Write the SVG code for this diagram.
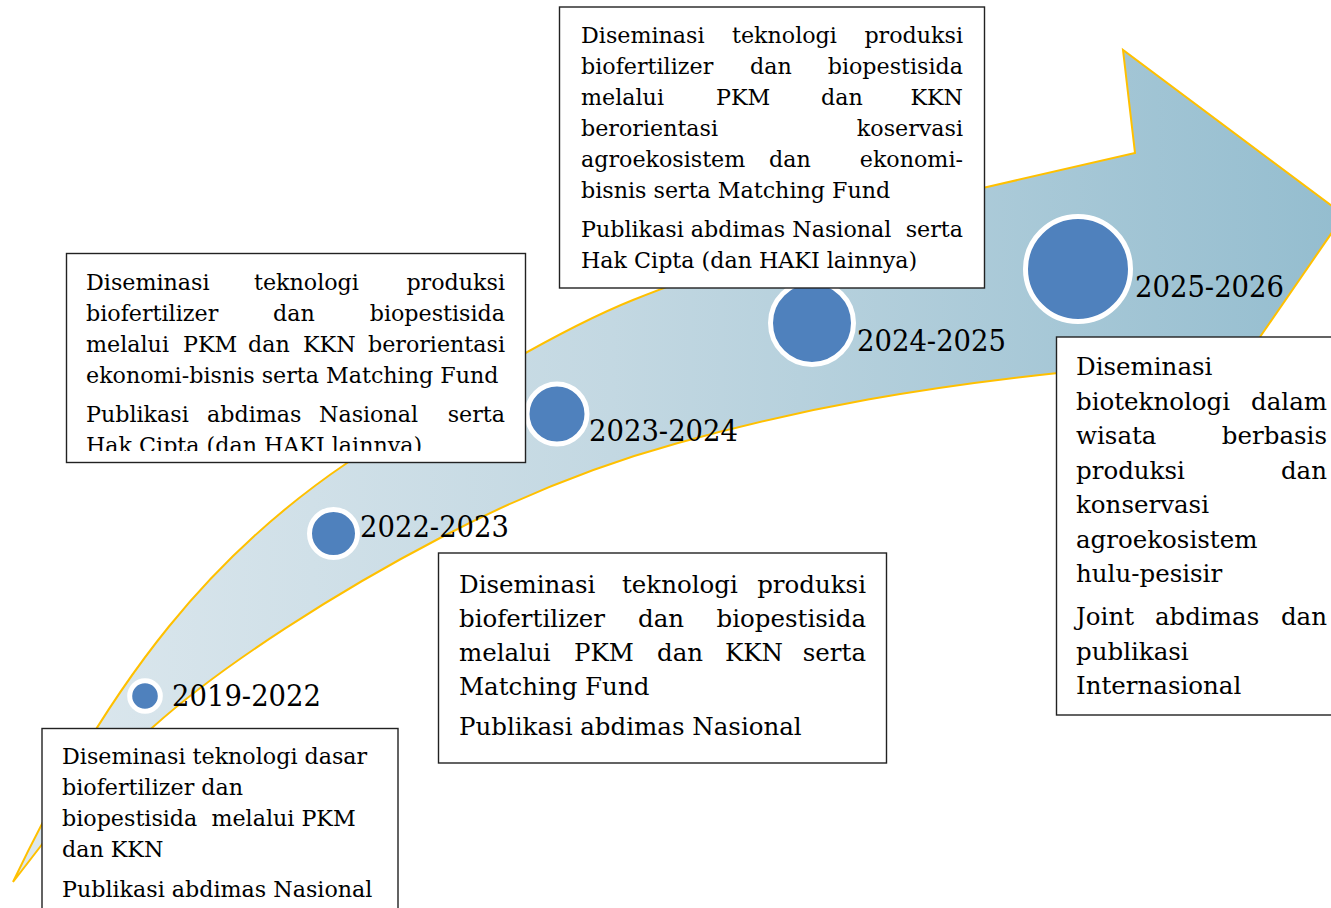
<svg xmlns="http://www.w3.org/2000/svg" width="1331" height="908" viewBox="0 0 1331 908">
<style>
.box{fill:#fff;stroke:#222;stroke-width:1.4}
.dot{fill:#4f81bd;stroke:#fff;stroke-width:5}
.yr{font-family:"DejaVu Serif",serif;font-size:29px;fill:#000}
.s{font-family:"DejaVu Serif",serif;font-size:22.2px;fill:#000;white-space:pre}
.m{font-family:"DejaVu Serif",serif;font-size:24.5px;fill:#000;white-space:pre}
.e{text-anchor:end}
</style>
<defs>
<linearGradient id="shaft" x1="0" y1="0" x2="1" y2="0">
<stop offset="0" stop-color="#dde8ee"/>
<stop offset="0.45" stop-color="#c3d8e2"/>
<stop offset="1" stop-color="#94bdcf"/>
</linearGradient>
<clipPath id="clipB2"><rect x="66" y="253" width="460" height="198"/></clipPath>
</defs>
<rect width="1331" height="908" fill="#fff"/>
<g id="connectors">
<path id="timeline-arrow" d="M13,882 C113,672 217,551 347,463 C427,409 553,332 633,300 C713,268 900,205 987,187 L1135,153 L1123,50 L1344,215 L1218,398 L1175,362 L1058,373 C928,387 808,406.6 678,443 C598,465 520,496 440,538 C340,590 223,664 153,727 C110,766 60,820 40,847 Z" fill="url(#shaft)" stroke="#ffc000" stroke-width="2" stroke-linejoin="miter"/>
</g>
<g id="node-2019-2022">
<circle class="dot" cx="145" cy="696" r="15.3"/>
<text class="yr" x="172" y="706" textLength="149" lengthAdjust="spacingAndGlyphs">2019-2022</text>
<rect class="box" x="42" y="728.5" width="356" height="200"/>
<text class="s" x="62" y="764">Diseminasi teknologi dasar</text>
<text class="s" x="62" y="795">biofertilizer dan</text>
<text class="s" x="62" y="826">biopestisida  melalui PKM</text>
<text class="s" x="62" y="857">dan KKN</text>
<text class="s" x="62" y="897">Publikasi abdimas Nasional</text>
</g>
<g id="node-2022-2023">
<circle class="dot" cx="333.5" cy="533.5" r="24"/>
<text class="yr" x="360" y="537" textLength="149" lengthAdjust="spacingAndGlyphs">2022-2023</text>
<rect class="box" x="438.5" y="553" width="448" height="210"/>
<text class="m" x="459" y="593">Diseminasi</text><text class="m" x="622" y="593">teknologi</text><text class="m e" x="866" y="593">produksi</text>
<text class="m" x="459" y="627">biofertilizer</text><text class="m" x="638" y="627">dan</text><text class="m e" x="866" y="627">biopestisida</text>
<text class="m" x="459" y="661">melalui</text><text class="m" x="574" y="661">PKM</text><text class="m" x="657" y="661">dan</text><text class="m" x="725" y="661">KKN</text><text class="m e" x="866" y="661">serta</text>
<text class="m" x="459" y="695">Matching Fund</text>
<text class="m" x="459" y="735">Publikasi abdimas Nasional</text>
</g>
<g id="node-2023-2024">
<circle class="dot" cx="557" cy="414" r="30"/>
<text class="yr" x="589" y="441" textLength="149" lengthAdjust="spacingAndGlyphs">2023-2024</text>
<rect class="box" x="66.5" y="253.5" width="459" height="209"/>
<g clip-path="url(#clipB2)">
<text class="s" x="86" y="290">Diseminasi</text><text class="s" x="254" y="290">teknologi</text><text class="s e" x="505" y="290">produksi</text>
<text class="s" x="86" y="321">biofertilizer</text><text class="s" x="273" y="321">dan</text><text class="s e" x="505" y="321">biopestisida</text>
<text class="s" x="86" y="352">melalui</text><text class="s" x="183" y="352">PKM</text><text class="s" x="248" y="352">dan</text><text class="s" x="303" y="352">KKN</text><text class="s e" x="505" y="352">berorientasi</text>
<text class="s" x="86" y="383">ekonomi-bisnis serta Matching Fund</text>
<text class="s" x="86" y="422">Publikasi</text><text class="s" x="207" y="422">abdimas</text><text class="s" x="319" y="422">Nasional</text><text class="s e" x="505" y="422">serta</text>
<text class="s" x="86" y="453">Hak Cipta (dan HAKI lainnya)</text>
</g>
</g>
<g id="node-2024-2025">
<circle class="dot" cx="812" cy="323" r="41.5"/>
<text class="yr" x="857" y="351" textLength="149" lengthAdjust="spacingAndGlyphs">2024-2025</text>
<rect class="box" x="559.5" y="7" width="425" height="281"/>
<text class="s" x="581" y="43">Diseminasi</text><text class="s" x="732" y="43">teknologi</text><text class="s e" x="963" y="43">produksi</text>
<text class="s" x="581" y="74">biofertilizer</text><text class="s" x="750" y="74">dan</text><text class="s e" x="963" y="74">biopestisida</text>
<text class="s" x="581" y="105">melalui</text><text class="s" x="716" y="105">PKM</text><text class="s" x="821" y="105">dan</text><text class="s e" x="963" y="105">KKN</text>
<text class="s" x="581" y="136">berorientasi</text><text class="s e" x="963" y="136">koservasi</text>
<text class="s" x="581" y="167">agroekosistem</text><text class="s" x="769" y="167">dan</text><text class="s e" x="963" y="167">ekonomi-</text>
<text class="s" x="581" y="198">bisnis serta Matching Fund</text>
<text class="s" x="581" y="237">Publikasi abdimas Nasional</text><text class="s e" x="963" y="237">serta</text>
<text class="s" x="581" y="268">Hak Cipta (dan HAKI lainnya)</text>
</g>
<g id="node-2025-2026">
<circle class="dot" cx="1078" cy="269" r="52.5"/>
<text class="yr" x="1135" y="297" textLength="149" lengthAdjust="spacingAndGlyphs">2025-2026</text>
<rect class="box" x="1056.5" y="337" width="290" height="378"/>
<text class="m" x="1076" y="375">Diseminasi</text>
<text class="m" x="1076" y="409.5">bioteknologi</text><text class="m e" x="1327" y="409.5">dalam</text>
<text class="m" x="1076" y="444">wisata</text><text class="m e" x="1327" y="444">berbasis</text>
<text class="m" x="1076" y="478.5">produksi</text><text class="m e" x="1327" y="478.5">dan</text>
<text class="m" x="1076" y="513">konservasi</text>
<text class="m" x="1076" y="547.5">agroekosistem</text>
<text class="m" x="1076" y="582">hulu-pesisir</text>
<text class="m" x="1076" y="625">Joint</text><text class="m" x="1155" y="625">abdimas</text><text class="m e" x="1327" y="625">dan</text>
<text class="m" x="1076" y="659.5">publikasi</text>
<text class="m" x="1076" y="694">Internasional</text>
</g>
</svg>
